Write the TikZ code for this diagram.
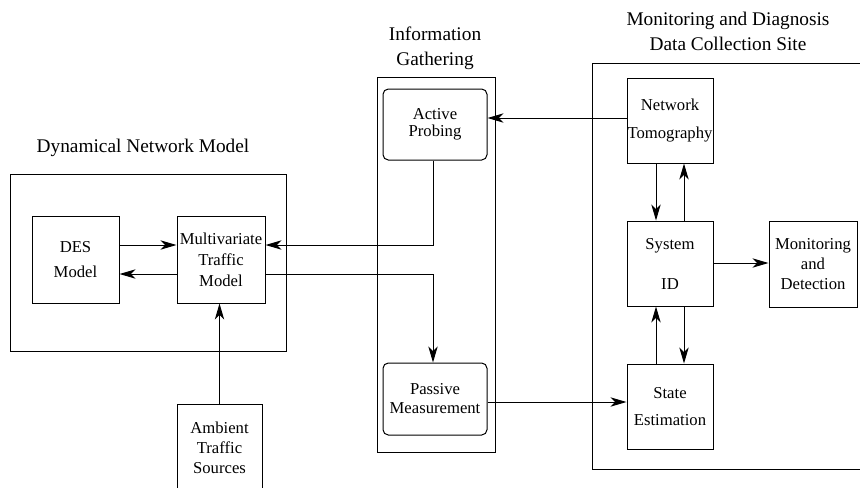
\documentclass[tikz,border=0pt]{standalone}
\usepackage{fontspec}
\setmainfont{Liberation Serif}
\usetikzlibrary{arrows.meta}
\begin{document}
\begin{tikzpicture}[x=0.75pt,y=-0.75pt,
 box/.style={draw, line width=0.75pt, inner sep=0pt, align=center, font=\fontsize{12.5}{15}\selectfont},
 rbox/.style={box, rounded corners=4pt},
 frame/.style={draw, line width=0.75pt, inner sep=0pt},
 title/.style={align=center, font=\fontsize{14.5}{18.75}\selectfont},
 arr/.style={line width=0.75pt, -{Stealth[length=12pt,width=7pt,inset=3.5pt]}},
 ln/.style={line width=0.75pt}]
\useasboundingbox (0,0) rectangle (860,487);
\clip (0,0) rectangle (860,487);
% titles
\node[title] (t1) at (143,148) {Dynamical Network Model};
\node[title] (t2) at (435,48) {Information\\Gathering};
\node[title] (t3) at (728,31) {Monitoring and Diagnosis\\Data Collection Site};
% frames
\node[frame, minimum width=207pt, minimum height=132.75pt] (dyn) at (148,262.5) {};
\node[frame, minimum width=88.5pt, minimum height=281.25pt] (info) at (436,264.5) {};
\node[frame, minimum width=231pt, minimum height=304.5pt] (md) at (746,266) {};
% boxes
\node[box, minimum width=65.25pt, minimum height=65.25pt] (des) at (75.5,259.5) {DES\\[3.75pt]Model};
\node[box, minimum width=66pt, minimum height=65.25pt] (mv) at (221,259.5) {Multivariate\\[0.75pt]Traffic\\[0.75pt]Model};
\node[box, minimum width=63.75pt, minimum height=66pt] (amb) at (219.5,448) {Ambient\\Traffic\\Sources};
\node[rbox, minimum width=78pt, minimum height=53.25pt] (act) at (435,124.5) {Active\\[-2pt]Probing};
\node[rbox, minimum width=78pt, minimum height=54pt] (pas) at (435,399) {Passive\\[-0.75pt]Measurement};
\node[box, minimum width=64.5pt, minimum height=63.75pt] (nt) at (670,120.5) {Network\\[6pt]Tomography};
\node[box, minimum width=64.5pt, minimum height=63.75pt] (sid) at (670,263.5) {System\\[15pt]ID};
\node[box, minimum width=66pt, minimum height=64.5pt] (mdet) at (813,264) {Monitoring\\and\\Detection};
\node[box, minimum width=64.5pt, minimum height=63.75pt] (se) at (670,406.5) {State\\[5.25pt]Estimation};
% connectors
\draw[arr] (des.east |- 0,245) -- (mv.west |- 0,245);
\draw[arr] (mv.west |- 0,274) -- (des.east |- 0,274);
\draw[arr] (act.south -| 433,0) -- (433,245) -- (mv.east |- 0,245);
\draw[arr] (mv.east |- 0,274) -- (433,274) -- (pas.north -| 433,0);
\draw[arr] (amb.north) -- (amb.north |- mv.south);
\draw[arr] (nt.west |- 0,118) -- (act.east |- 0,118);
\draw[arr] (nt.south -| 656,0) -- (sid.north -| 656,0);
\draw[arr] (sid.north -| 684,0) -- (nt.south -| 684,0);
\draw[arr] (sid.east |- 0,263) -- (mdet.west |- 0,263);
\draw[arr] (se.north -| 656,0) -- (sid.south -| 656,0);
\draw[arr] (sid.south -| 684,0) -- (se.north -| 684,0);
\draw[arr] (pas.east |- 0,402) -- (se.west |- 0,402);
\end{tikzpicture}
\end{document}
